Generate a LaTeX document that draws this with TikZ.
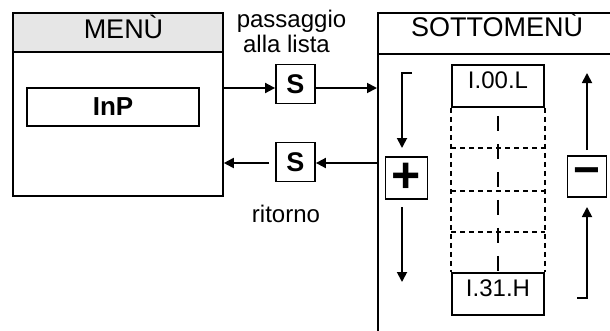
\documentclass[tikz,border=0pt]{standalone}
\usepackage{fontspec}
\setmainfont{Liberation Sans}
\usetikzlibrary{positioning}
\usetikzlibrary{arrows.meta}
\definecolor{headgray}{RGB}{230,230,230}

\begin{document}
\begin{tikzpicture}[x=1pt, y=-1pt,
    frame/.style={draw, line width=1.8pt, inner sep=0pt},
    keybox/.style={draw, line width=1.8pt, inner sep=0pt, minimum width=39pt, minimum height=39pt, font=\fontsize{27}{27}\selectfont\bfseries},
    entry/.style={draw, line width=1.8pt, inner sep=0pt, minimum width=92pt, minimum height=42pt, text height=17pt, text depth=13pt, font=\fontsize{24}{24}\selectfont},
    txt/.style={inner sep=0pt, font=\fontsize{24}{24}\selectfont},
    title/.style={inner sep=0pt, font=\fontsize{27}{27}\selectfont},
    flow/.style={line width=1.8pt, -{Triangle[length=10pt,width=10pt]}},
    grid/.style={line width=1.6pt, dash pattern=on 5pt off 4pt}]
    \useasboundingbox (0,0) rectangle (610,330);
    \clip (0,0) rectangle (610,330);

    % left menu
    \node[frame, anchor=north west, minimum width=210pt, minimum height=183pt] (menu) at (12,12) {};
    \node[frame, anchor=north west, fill=headgray, minimum width=210pt, minimum height=39pt] (menuhead) at (12,12) {};
    \node[title, anchor=base] (menutitle) at (123.5,38) {MENÙ};
    \node[frame, minimum width=172pt, minimum height=38pt, font=\fontsize{26}{26}\selectfont\bfseries] (inp) at (113,107) {InP};

    % sub menu
    \node[frame, anchor=north west, minimum width=260pt, minimum height=340pt] (sub) at (377,12) {};
    \node[frame, anchor=north west, minimum width=260pt, minimum height=41pt] (subhead) at (377,12) {};
    \node[title, anchor=base] (subtitle) at (497,36) {SOTTOMENÙ};

    % keys S
    \node[keybox] (sgo) at (295.5,84) {S};
    \node[keybox] (sback) at (295.5,162) {S};
    \coordinate (go) at (222,88);
    \coordinate (back) at (222,163);
    \draw[flow] (go) -- (go -| sgo.west);
    \draw[flow] (go -| sgo.east) -- (go -| sub.west);
    \draw[flow] (back -| sub.west) -- (back -| sback.east);
    \draw[flow] ([xshift=-6pt]back -| sback.west) -- (back -| menu.east);

    \node[txt, anchor=base] (lbgo1) at (291.5,27) {passaggio};
    \node[txt, anchor=base] (lbgo2) at (286.5,52) {alla lista};
    \node[txt, anchor=base] (lbback) at (286,222) {ritorno};

    % list of entries
    \node[entry] (first) at (498,86) {I.00.L};
    \node[entry] (last) at (498,294) {I.31.H};
    \draw[grid] (first.south west) -- (last.north west);
    \draw[grid] (first.south east) -- (last.north east);
    \foreach \y in {148,191,232} {
        \draw[grid] (first.west |- 0,\y) -- (first.east |- 0,\y);
    }
    \draw[line width=2.8pt, dash pattern=on 15pt off 13pt, dash phase=20pt] (first.south) -- (last.north);

    % keys + and -
    \node[keybox, minimum width=42pt, minimum height=42pt, font=\fontsize{50}{50}\selectfont\bfseries] (plus) at (406.5,178) {+};
    \node[keybox, minimum width=39pt, minimum height=41pt, font=\fontsize{46}{46}\selectfont\bfseries] (minus) at (587,176.5) {−};

    \coordinate (pa) at (412,73);
    \coordinate (pb) at (402,148);
    \coordinate (pc) at (402,207);
    \coordinate (pd) at (402,282);
    \draw[flow] (pa) -| (pb);
    \draw[flow] (pc) -- (pd);

    \coordinate (ma) at (587,150);
    \coordinate (mb) at (587,73);
    \coordinate (mc) at (577,298);
    \coordinate (md) at (587,207);
    \draw[flow] (ma) -- (mb);
    \draw[flow] (mc) -| (md);
\end{tikzpicture}
\end{document}
